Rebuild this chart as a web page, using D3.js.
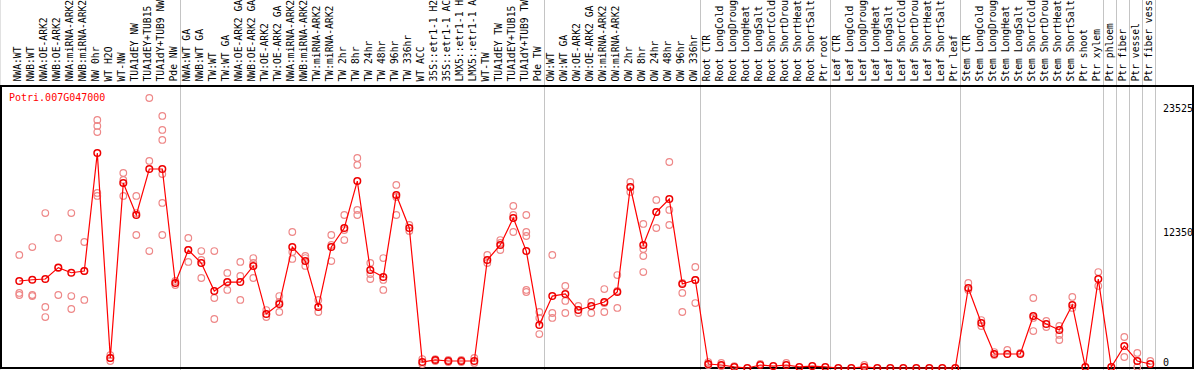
<!DOCTYPE html>
<html>
<head>
<meta charset="utf-8">
<script src="https://cdn.jsdelivr.net/npm/d3@7"></script>
<style>
  html, body { margin: 0; padding: 0; background: #fff; }
  svg { display: block; font-family: "DejaVu Sans Mono", monospace; font-size: 10px; }
</style>
</head>
<body>
<svg id="chart" width="1194" height="370"></svg>
<script>
// sample names as printed on top (already cut to 14 chars like the source)
const samples = [
  'NWA:WT', 'NWB:WT', 'NWA:OE-ARK2', 'NWB:OE-ARK2', 'NWA:miRNA-ARK2', 'NWB:miRNA-ARK2',
  'NW 0hr', 'WT H2O', 'WT-NW', 'TUA1dEY NW', 'TUA1dEY+TUB15', 'TUA1dY+TUB9 NW', 'Pde NW',
  'NWA:WT GA', 'NWB:WT GA', 'TW:WT', 'TW:WT GA', 'NWA:OE-ARK2 GA', 'NWB:OE-ARK2 GA',
  'TW:OE-ARK2', 'TW:OE-ARK2 GA', 'NWA:miRNA-ARK2', 'NWB:miRNA-ARK2', 'TW:miRNA-ARK2',
  'TW:miRNA-ARK2', 'TW 2hr', 'TW 8hr', 'TW 24hr', 'TW 48hr', 'TW 96hr', 'TW 336hr',
  'WT ACC', '35S::etr1-1 H2', '35S::etr1-1 AC', 'LMX5::etr1-1 H', 'LMX5::etr1-1 A',
  'WT-TW', 'TUA1dEY TW', 'TUA1dEY+TUB15', 'TUA1dY+TUB9 TW', 'Pde TW',
  'OW:WT', 'OW:WT GA', 'OW:OE-ARK2', 'OW:OE-ARK2 GA', 'OW:miRNA-ARK2', 'OW:miRNA-ARK2',
  'OW 2hr', 'OW 8hr', 'OW 24hr', 'OW 48hr', 'OW 96hr', 'OW 336hr',
  'Root CTR', 'Root LongCold', 'Root LongDroug', 'Root LongHeat', 'Root LongSalt',
  'Root ShortCold', 'Root ShortDrou', 'Root ShortHeat', 'Root ShortSalt', 'Ptr root',
  'Leaf CTR', 'Leaf LongCold', 'Leaf LongDroug', 'Leaf LongHeat', 'Leaf LongSalt',
  'Leaf ShortCold', 'Leaf ShortDrou', 'Leaf ShortHeat', 'Leaf ShortSalt', 'Ptr leaf',
  'Stem CTR', 'Stem LongCold', 'Stem LongDroug', 'Stem LongHeat', 'Stem LongSalt',
  'Stem ShortCold', 'Stem ShortDrou', 'Stem ShortHeat', 'Stem ShortSalt', 'Ptr shoot',
  'Ptr xylem', 'Ptr phloem', 'Ptr fiber', 'Ptr vessel', 'Ptr fiber vess'
];

// mean expression per sample (the red line)
const meanValues = [
  7580, 7690, 7755, 8750, 8300, 8450, 18730, 870, 16120, 13330, 17340, 17340, 7410,
  10280, 9150, 6710, 7490, 7490, 8890, 4700, 5580, 10540, 9320, 5320, 10540,
  12200, 16290, 8540, 7930, 15070, 12200,
  520, 700, 610, 610, 610,
  9410, 10720, 13070, 10190, 3750,
  6270, 6450, 5050, 5400, 5750, 6620, 15770, 10720, 13590, 14720, 7320, 7670,
  350, 260, 90, 0, 260, 170, 260, 90, 170, 90,
  0, 0, 90, 0, 0, 0, 0, 0, 0, 0,
  6970, 3920, 1220, 1220, 1220, 4530, 3830, 3310, 5490, 90,
  7750, 90, 1920, 610, 350
];

// individual replicates (pale circles)
const replicateValues = [
  [9850, 6540, 6360], [10540, 6360, 6270], [13500, 5320, 4440], [11330, 8710, 6360],
  [13500, 6270, 5140], [10980, 8450, 5930], [21610, 21090, 20560, 15250, 14990],
  [1130, 870, 610], [16990, 16380, 14990], [14990, 13500, 11590],
  [23525, 18040, 10190], [21960, 20740, 19870, 16900, 11590, 14380], [7580, 7230],
  [11330, 10280, 9240], [10190, 9410, 7840], [10190, 6100, 4270], [8280, 7490, 6800],
  [9240, 8020, 5930], [9580, 9150, 7840], [5050, 4440], [6270, 5750, 4880],
  [11850, 10110, 9500], [9760, 9580, 8890], [5930, 4880], [11590, 10720, 9320],
  [13330, 12020, 11150], [18300, 17690, 13770, 13330], [9150, 8190, 7750],
  [9580, 7670, 6800], [15950, 14900, 13330], [12460, 11940],
  [780, 350], [780, 610], [700, 520], [700, 520], [870, 440],
  [9850, 9150], [11150, 10890, 10280], [14120, 13330, 11850],
  [13330, 11850, 11500, 6800, 6620], [4880, 4360, 2960],
  [9850, 4790, 4360], [7150, 5840, 4790], [5400, 4790], [5750, 4790],
  [6880, 5660, 4880], [8100, 6710, 5230], [16210, 15340],
  [12550, 10370, 9760, 8360], [14640, 13590, 12200], [17950, 13770, 12460],
  [7410, 6540, 4880], [8800, 7670, 5660],
  [520, 260], [440, 170], [170], [], [350], [], [440], [], [], [],
  [], [], [260], [], [], [], [], [], [], [],
  [7410, 6800], [4180, 3660], [1390, 1130], [1570], [1310],
  [6100, 4360, 3220], [4100, 3570], [3660, 2880, 2440], [6190, 5230], [],
  [8360, 7150], [], [2700, 960], [1310, 90], [610]
];

const yTicks = [0, 12350, 23525];
const geneId = 'Potri.007G047000';

// separators are drawn right after these sample indexes (-1 = before the first)
const groupEnds = [-1, 12, 40, 52, 62, 72, 83, 84, 85, 86, 87];

const width = 1194;
const height = 370;
const plot = { top: 86, bottom: 368, left: 1, right: 1193 };
const step = 13;
const firstX = 12.8;

const svg = d3.select('#chart');

const x = d3.scaleBand()
  .domain(d3.range(samples.length))
  .range([firstX, firstX + step * samples.length])
  .paddingInner(0)
  .paddingOuter(0);

const y = d3.scaleLinear()
  .domain([0, 23525])
  .range([plot.bottom, 98]);

const cx = (i) => x(i) + x.bandwidth() / 2;

// gray separators between sample groups
svg.append('g')
  .selectAll('line')
  .data(groupEnds)
  .join('line')
  .attr('x1', (i) => Math.round(cx(i) + 5) + 0.5)
  .attr('x2', (i) => Math.round(cx(i) + 5) + 0.5)
  .attr('y1', 0)
  .attr('y2', height)
  .attr('stroke', '#c4c4c4')
  .attr('stroke-width', 1);

// frame
svg.append('line')
  .attr('x1', 0).attr('x2', width)
  .attr('y1', plot.top).attr('y2', plot.top)
  .attr('stroke', '#000').attr('stroke-width', 2);
svg.append('rect')
  .attr('x', plot.left)
  .attr('y', plot.top)
  .attr('width', plot.right - plot.left)
  .attr('height', plot.bottom - plot.top)
  .attr('fill', 'none')
  .attr('stroke', '#000')
  .attr('stroke-width', 2);

// sample labels (small enough that 14 chars fit above the frame)
svg.append('g')
  .attr('font-size', '9.7px')
  .selectAll('text')
  .data(samples)
  .join('text')
  .attr('transform', (d, i) => `translate(${cx(i) + 2},81.5) rotate(-90)`)
  .attr('fill', '#000')
  .text((d) => d);

// gene id
svg.append('text')
  .attr('x', 9)
  .attr('y', 101)
  .attr('fill', '#f00')
  .text(geneId);

// value labels on the right
svg.append('g')
  .selectAll('text')
  .data(yTicks)
  .join('text')
  .attr('x', 1163)
  .attr('y', (d) => Math.min(Math.max(y(d) + 6, 108), 362))
  .attr('dy', '0.35em')
  .attr('fill', '#000')
  .text((d) => d);

// replicates
const reps = replicateValues.flatMap((vals, i) => vals.map((v) => ({ i, v })));
svg.append('g')
  .selectAll('circle')
  .data(reps)
  .join('circle')
  .attr('cx', (d) => cx(d.i))
  .attr('cy', (d) => y(d.v))
  .attr('r', 3.3)
  .attr('fill', 'none')
  .attr('stroke', '#ee8888')
  .attr('stroke-width', 1.2);

// mean line
const line = d3.line()
  .x((d, i) => cx(i))
  .y((d) => y(d));

svg.append('path')
  .datum(meanValues)
  .attr('d', line)
  .attr('fill', 'none')
  .attr('stroke', '#f00')
  .attr('stroke-width', 1.2);

svg.append('g')
  .selectAll('circle')
  .data(meanValues)
  .join('circle')
  .attr('cx', (d, i) => cx(i))
  .attr('cy', (d) => y(d))
  .attr('r', 3.3)
  .attr('fill', 'none')
  .attr('stroke', '#e00')
  .attr('stroke-width', 1.5);
</script>
</body>
</html>
